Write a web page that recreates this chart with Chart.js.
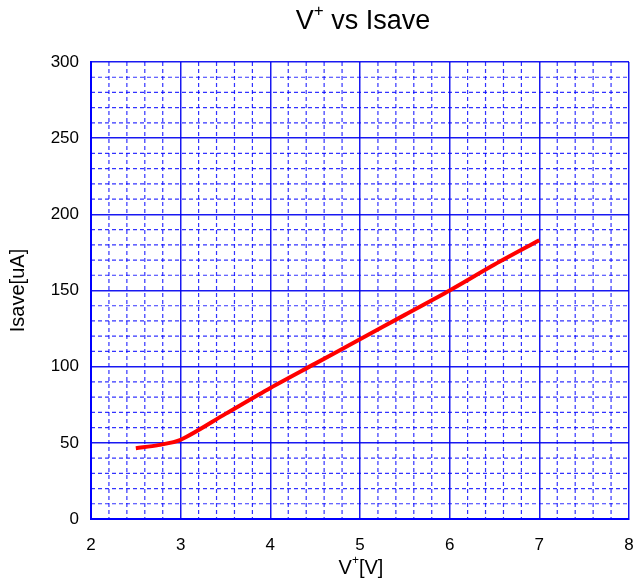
<!DOCTYPE html>
<html lang="en">
<head>
    <meta charset="UTF-8">
    <title>V+ vs Isave</title>
    <script src="https://cdn.jsdelivr.net/npm/chart.js"></script>
    <style>
        html, body { margin: 0; padding: 0; background: #fff; }
        #wrap { width: 635px; height: 583px; }
    </style>
</head>
<body>
<div id="wrap"><canvas id="ivChart"></canvas></div>
<script>
    // measured supply voltage (V) and average current (uA)
    const voltage = [2.5, 2.75, 3, 3.5, 4, 4.5, 5, 5.5, 6, 6.5, 7];
    const isave = [46.5, 48.5, 52, 69, 86, 102, 118, 134, 150, 167, 183];
    const xTicks = [2, 3, 4, 5, 6, 7, 8];
    const yTicks = [0, 50, 100, 150, 200, 250, 300];

    const FONT = 'Arial, "Liberation Sans", sans-serif';
    const BLUE = '#0000ff';

    // text with a "+" superscript after the first piece
    function drawSup(ctx, parts, cx, cy, size) {
        const small = Math.round(size * 0.62);
        ctx.font = size + 'px ' + FONT;
        const w0 = ctx.measureText(parts[0]).width;
        const w2 = ctx.measureText(parts[2]).width;
        ctx.font = small + 'px ' + FONT;
        const w1 = ctx.measureText(parts[1]).width;
        let x = cx - (w0 + w1 + w2) / 2;
        ctx.fillStyle = '#000';
        ctx.textBaseline = 'middle';
        ctx.textAlign = 'left';
        ctx.font = size + 'px ' + FONT;
        ctx.fillText(parts[0], x, cy);
        x += w0;
        ctx.font = small + 'px ' + FONT;
        ctx.fillText(parts[1], x, cy - size * 0.38);
        x += w1;
        ctx.font = size + 'px ' + FONT;
        ctx.fillText(parts[2], x, cy);
    }

    const minorGrid = {
        id: 'minorGrid',
        beforeDatasetsDraw(chart) {
            const {ctx, chartArea: a, scales: {x, y}} = chart;
            ctx.save();
            ctx.strokeStyle = 'rgba(0, 0, 255, 0.8)';
            ctx.lineWidth = 1.2;
            ctx.setLineDash([4, 3]);
            for (let i = 0; i <= 30; i++) {
                if (i % 5 === 0) continue;
                const px = x.getPixelForValue(2 + i * 0.2);
                ctx.beginPath(); ctx.moveTo(px, a.top); ctx.lineTo(px, a.bottom); ctx.stroke();
            }
            for (let i = 0; i <= 30; i++) {
                if (i % 5 === 0) continue;
                const py = y.getPixelForValue(i * 10);
                ctx.beginPath(); ctx.moveTo(a.left, py); ctx.lineTo(a.right, py); ctx.stroke();
            }
            ctx.restore();
        },
        afterDraw(chart) {
            const {ctx, chartArea: a} = chart;
            const cx = (a.left + a.right) / 2;
            ctx.save();
            drawSup(ctx, ['V', '+', ' vs Isave'], cx + 3, 22, 27);
            drawSup(ctx, ['V', '+', '[V]'], cx + 1, 568, 20);
            ctx.restore();
        }
    };

    new Chart(document.getElementById('ivChart'), {
        type: 'line',
        data: {
            datasets: [{
                data: voltage.map((v, i) => ({x: v, y: isave[i]})),
                borderColor: '#ff0000',
                borderWidth: 4,
                pointRadius: 0,
                tension: 0.3,
                fill: false
            }]
        },
        options: {
            responsive: true,
            maintainAspectRatio: false,
            animation: false,
            layout: {padding: {top: 62, right: 6, left: 0, bottom: 0}},
            plugins: {legend: {display: false}, tooltip: {enabled: false}},
            scales: {
                x: {
                    type: 'linear',
                    min: 2, max: 8,
                    afterBuildTicks: s => { s.ticks = xTicks.map(v => ({value: v})); },
                    afterFit: s => { s.height = 583 - 519; s.paddingLeft = 0; s.paddingRight = 0; },
                    ticks: {color: '#000', font: {family: FONT, size: 17}, padding: 16},
                    grid: {color: 'rgba(0, 0, 240, 0.9)', lineWidth: 1.5, drawTicks: false},
                    border: {color: BLUE, width: 2}
                },
                y: {
                    min: 0, max: 300,
                    afterBuildTicks: s => { s.ticks = yTicks.map(v => ({value: v})); },
                    afterFit: s => { s.width = 91; s.paddingTop = 0; s.paddingBottom = 0; },
                    ticks: {color: '#000', font: {family: FONT, size: 17}, padding: 12},
                    grid: {color: 'rgba(0, 0, 240, 0.9)', lineWidth: 1.5, drawTicks: false},
                    border: {color: BLUE, width: 2},
                    title: {
                        display: true,
                        text: 'Isave[uA]',
                        color: '#000',
                        font: {family: FONT, size: 20},
                        padding: {top: 6, bottom: 0}
                    }
                }
            }
        },
        plugins: [minorGrid]
    });
</script>
</body>
</html>
